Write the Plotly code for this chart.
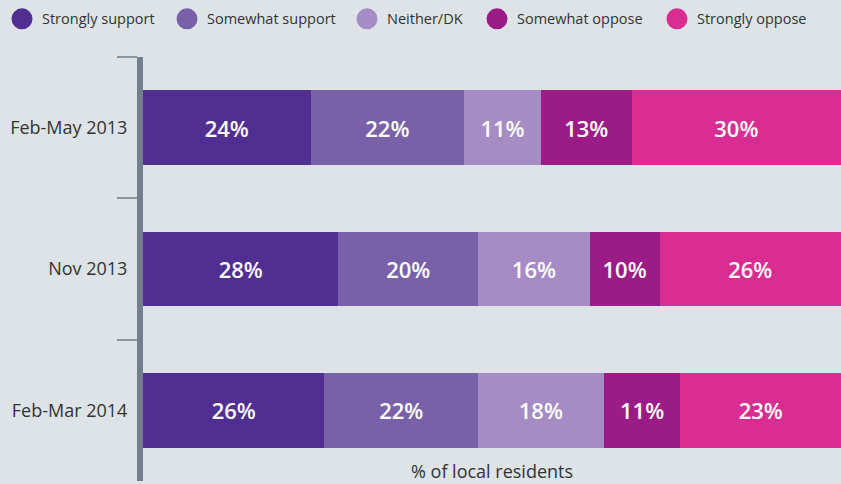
import plotly.graph_objects as go

categories = ["Feb-May 2013", "Nov 2013", "Feb-Mar 2014"]
series_names = ["Strongly support", "Somewhat support", "Neither/DK", "Somewhat oppose", "Strongly oppose"]
strongly_support = [24, 28, 26]
somewhat_support = [22, 20, 22]
neither_dk = [11, 16, 18]
somewhat_oppose = [13, 10, 11]
strongly_oppose = [30, 26, 23]
colors = ["#512e91", "#7961aa", "#a68cc5", "#9b1c87", "#d92d91"]

values = [strongly_support, somewhat_support, neither_dk, somewhat_oppose, strongly_oppose]
FONT = "Open Sans"
legend_ids = ["legend", "legend2", "legend3", "legend4", "legend5"]
legend_x_px = [2, 167, 347, 477, 657]

fig = go.Figure()
for name, vals, col in zip(series_names, values, colors):
    fig.add_trace(go.Bar(
        y=categories, x=vals, orientation="h", name=name,
        marker=dict(color=col, line=dict(width=0)),
        texttemplate="%{x}%", textposition="inside",
        insidetextanchor="middle", constraintext="none",
        textfont=dict(color="white", size=22, family=FONT, weight=600),
        width=0.53, showlegend=False, hoverinfo="skip",
    ))
for name, col, lid in zip(series_names, colors, legend_ids):
    fig.add_trace(go.Scatter(
        x=[None], y=[None], mode="markers", name=name, legend=lid,
        marker=dict(color=col, size=16, line=dict(color=col, width=5)),
    ))

legend_layout = {}
for lid, px in zip(legend_ids, legend_x_px):
    legend_layout[lid] = dict(orientation="h", x=px / 841, y=0.994,
                              xanchor="left", yanchor="top",
                              xref="container", yref="container",
                              font=dict(size=14.5, color="#333333"),
                              bgcolor="rgba(0,0,0,0)")

fig.update_layout(
    barmode="stack",
    width=841, height=484,
    margin=dict(l=143, r=0, t=57, b=3),
    paper_bgcolor="#dde3e7", plot_bgcolor="#dde3e7",
    font=dict(family=FONT, color="#333333", size=14),
    showlegend=True,
    xaxis=dict(range=[0, 100], visible=False, fixedrange=True),
    yaxis=dict(categoryorder="array", categoryarray=categories, autorange="reversed",
               showline=True, linecolor="#737f8c", linewidth=6,
               ticks="outside", tickson="boundaries", ticklen=20, tickwidth=2,
               tickcolor="#8a96a2", showgrid=False, zeroline=False,
               tickfont=dict(size=18, color="#333333"),
               ticklabelstandoff=6, fixedrange=True),
    annotations=[dict(text="% of local residents", xref="paper", yref="paper",
                      x=0.5, y=0.0, xanchor="center", yanchor="bottom", yshift=-4,
                      showarrow=False, font=dict(size=18, color="#333333"))],
    **legend_layout,
)

fig.write_html("out.html", config={"displayModeBar": False},
               post_script="document.body.style.margin='0';")
